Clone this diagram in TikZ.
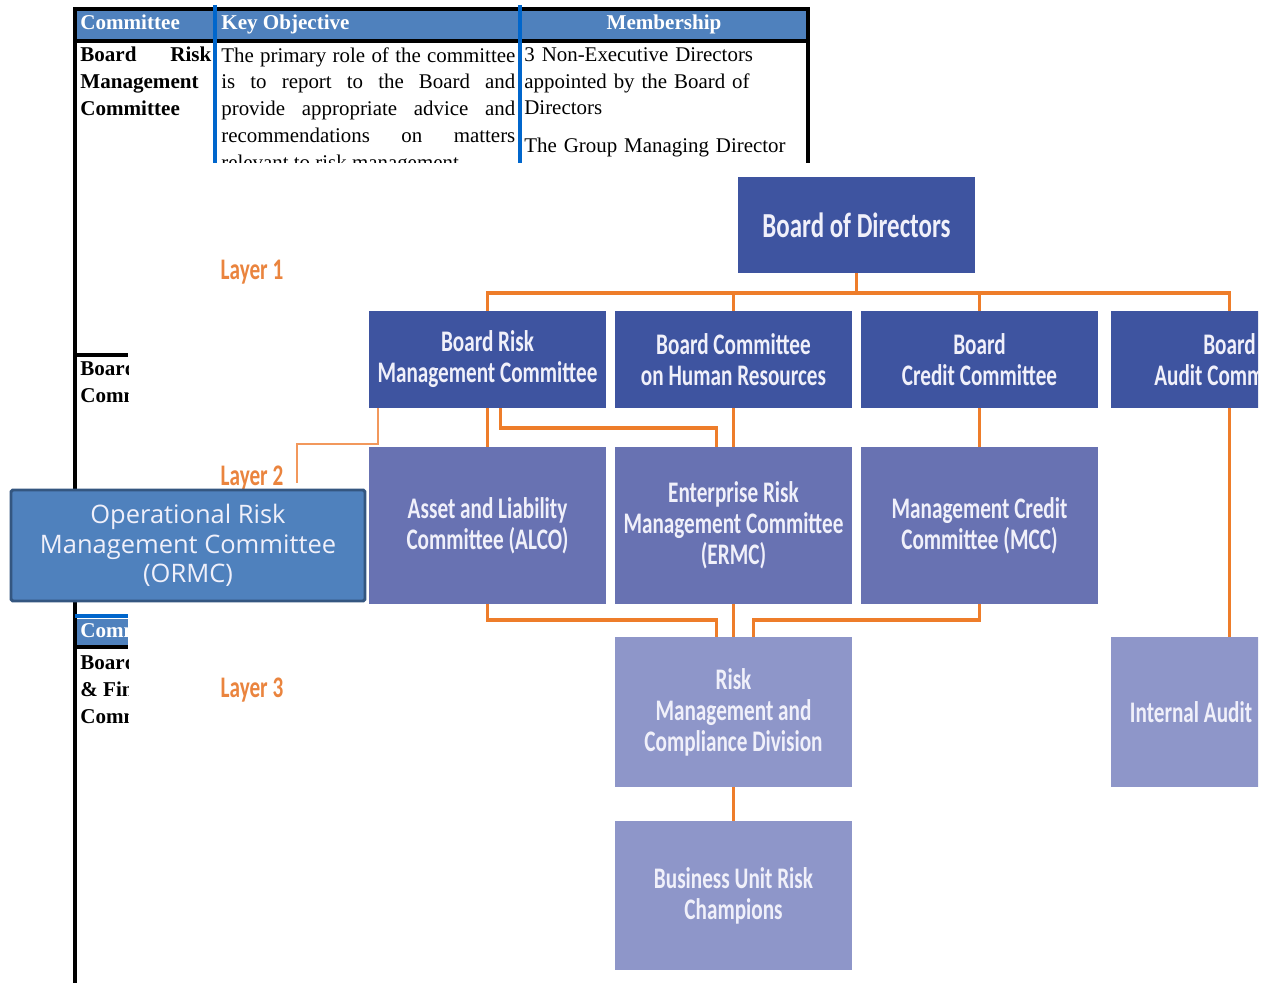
\documentclass[tikz,border=0pt]{standalone}
\usepackage{fontspec}
\setmainfont{Liberation Serif}
\newfontfamily\chartfont[FakeStretch=0.71]{Carlito Bold}
\newfontfamily\ormcfont{Open Sans}
\usetikzlibrary{calc}
\definecolor{l1col}{RGB}{62,84,160}
\definecolor{l2col}{RGB}{104,114,178}
\definecolor{l3col}{RGB}{142,150,201}
\definecolor{linkcol}{RGB}{238,125,42}
\definecolor{thinlinkcol}{RGB}{242,152,92}
\definecolor{layercol}{RGB}{234,132,62}
\definecolor{headcol}{RGB}{79,129,189}
\definecolor{sepcol}{RGB}{0,102,204}
\definecolor{ormcedge}{RGB}{52,86,128}
\definecolor{txtcol}{RGB}{240,240,250}
\newcommand{\unitpx}{0.02cm}

\begin{document}
\begin{tikzpicture}[x=0.02cm, y=-0.02cm]
\tikzstyle{tline}=[line width=2.2pt, black]
\tikzstyle{sepline}=[line width=2.8pt, sepcol]
\tikzstyle{tabtext}=[inner sep=0pt, anchor=north west, font=\fontsize{11.9}{15.3}\selectfont]
\tikzstyle{tabbold}=[tabtext, font=\fontsize{12}{15.3}\selectfont\bfseries]
\tikzstyle{tabhead}=[inner sep=0pt, anchor=base west, text=white, font=\fontsize{12}{15.3}\selectfont\bfseries]
\tikzstyle{l1box}=[rectangle, fill=l1col, text=txtcol, inner sep=0pt, minimum width=237*\unitpx, minimum height=97*\unitpx, align=center, font=\chartfont\fontsize{17}{17.6}\selectfont]
\tikzstyle{l2box}=[l1box, fill=l2col, minimum height=157*\unitpx]
\tikzstyle{l3box}=[l1box, fill=l3col, minimum height=150*\unitpx]
\tikzstyle{layer}=[inner sep=0pt, text=layercol, font=\chartfont\fontsize{17}{17.6}\selectfont]
\tikzstyle{link}=[line width=2.2pt, linkcol]
\tikzstyle{thinlink}=[line width=1.3pt, thinlinkcol]

\useasboundingbox (0,0) rectangle (1265,983);

% table behind the chart
\begin{scope}
\clip (70,0) rectangle (815,163) (70,163) rectangle (128,983);
\fill[headcol] (77,11) rectangle (806,39);
\fill[headcol] (77,619) rectangle (128,645);
\draw[tline] (73,9) -- (810,9);
\draw[tline] (75,8) -- (75,983);
\draw[tline] (808,8) -- (808,163);
\draw[tline] (75,41) -- (808,41);
\draw[tline] (75,355) -- (128,355);
\draw[tline] (75,647) -- (128,647);
\draw[sepline] (215,5) -- (215,163);
\draw[sepline] (520,5) -- (520,163);
\draw[sepline] (75,616) -- (128,616);

\node[tabhead] (hcom) at (80,30) {Committee};
\node[tabhead] (hkey) at (221,30) {Key Objective};
\node[tabhead, anchor=base] (hmem) at (664,30) {Membership};
\node[tabbold, text width=131*\unitpx, align=left] (brmctxt) at (80,47) {Board\hfill Risk\\Management\\Committee};
\node[tabtext, text width=294*\unitpx, align=justify] (keytxt) at (221,47) {The primary role of the committee\linebreak is to report to the Board and\linebreak provide appropriate advice and\linebreak recommendations on matters\linebreak relevant to risk management.};
\node[tabtext, text width=284*\unitpx, align=left] (memtxt) at (524,47) {3 Non-Executive Directors\\appointed by the Board of\\Directors\\[6pt]The Group Managing Director};
\node[tabbold, align=left] (row2txt) at (80,361) {Board\\Committee};
\node[tabhead] (hcom2) at (80,637) {Committee};
\node[tabbold, align=left] (row3txt) at (80,655) {Board\\\& Finance\\Committee};
\end{scope}

% the chart
\begin{scope}
\clip (128,163) rectangle (1258,983);
\node[l1box, minimum height=96*\unitpx, font=\chartfont\fontsize{20}{22}\selectfont] (bod) at (856.5,225) {Board of Directors};

\node[l1box] (brmc) at (487.5,359.5) {Board Risk\\Management Committee};
\node[l1box] (bchr) at ($(brmc)+(246,0)$) {Board Committee\\on Human Resources};
\node[l1box] (bcc) at ($(bchr)+(246,0)$) {Board\\Credit Committee};
\node[l1box] (bac) at ($(bcc)+(250,0)$) {Board\\Audit Committee};

\node[l2box] (alco) at ($(brmc)+(0,166)$) {Asset and Liability\\Committee (ALCO)};
\node[l2box] (ermc) at ($(alco)+(246,0)$) {Enterprise Risk\\Management Committee\\(ERMC)};
\node[l2box] (mcc) at ($(ermc)+(246,0)$) {Management Credit\\Committee (MCC)};

\node[l3box] (rmcd) at ($(ermc)+(0,186.5)$) {Risk\\Management and\\Compliance Division};
\node[l3box, minimum width=160*\unitpx] (ia) at (1191,712) {Internal Audit};
\node[l3box, minimum height=149*\unitpx] (burc) at ($(rmcd)+(0,183.5)$) {Business Unit Risk\\Champions};

\node[layer] (lay1) at (252,272) {Layer 1};
\node[layer] (lay2) at (252,478) {Layer 2};
\node[layer] (lay3) at (252,690) {Layer 3};

\coordinate (bus) at (0,293);
\draw[link] (bod.south) -- (bod.south |- bus);
\draw[link] (brmc.north) -- (brmc.north |- bus) -- (bac.north |- bus) -- (bac.north);
\draw[link] (bchr.north) -- (bchr.north |- bus);
\draw[link] (bcc.north) -- (bcc.north |- bus);

\draw[link] (brmc.south) -- (alco.north);
\draw[link] ($(brmc.south)+(13,0)$) -- ++(0,20) -| ($(ermc.north)+(-17,0)$);
\draw[link] (bchr.south) -- (ermc.north);
\draw[link] (bcc.south) -- (mcc.north);
\draw[link] (bac.south) -- (bac.south |- ia.north);

\draw[link] (alco.south) -- ++(0,16) -| ($(rmcd.north)+(-17,0)$);
\draw[link] (ermc.south) -- (rmcd.north);
\draw[link] (mcc.south) -- ++(0,16) -| ($(rmcd.north)+(20,0)$);
\draw[link] (rmcd.south) -- (burc.north);
\end{scope}

% overlaid box
\node[rectangle, draw=ormcedge, line width=1.7pt, fill=headcol, text=txtcol, inner sep=0pt, rounded corners=1pt,
  minimum width=354*\unitpx, minimum height=111*\unitpx, align=center,
  font=\ormcfont\fontsize{14.5}{16.8}\selectfont] (ormc) at (188,545.5) {Operational Risk\\Management Committee\\(ORMC)};
\draw[thinlink] ($(brmc.south west)+(9,0)$) -- ++(0,36) -| ($(ormc.north)+(109,-6)$);
\end{tikzpicture}
\end{document}
